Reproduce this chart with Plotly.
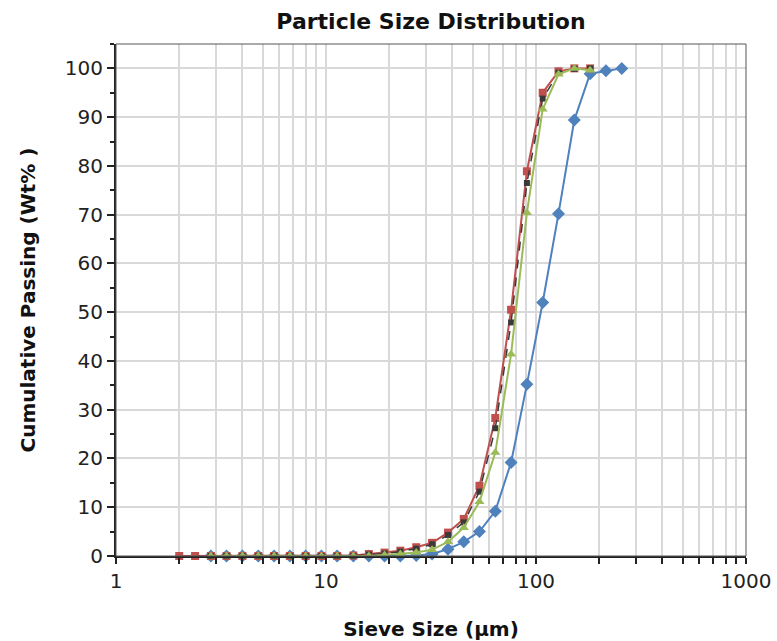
import plotly.graph_objects as go

# Sieve sizes (µm)
sizes = [2.0, 2.38, 2.83, 3.36, 4.0, 4.76, 5.66, 6.73, 8.0, 9.51, 11.3, 13.5,
         16.0, 19.0, 22.6, 26.9, 32.0, 38.1, 45.3, 53.8, 64.0, 76.1, 90.5,
         107.6, 128.0, 152.2, 181.0, 215.3, 256.0]

# Cumulative passing (Wt%)
blue_x = sizes[2:]
blue_y = [0, 0, 0, 0, 0, 0, 0, 0, 0, 0, 0, 0, 0, 0.1, 0.4, 1.4, 2.9, 5.0,
          9.2, 19.2, 35.2, 52.0, 70.2, 89.4, 98.9, 99.5, 100]

red_x = sizes[:27]
red_y = [0, 0, 0, 0, 0, 0, 0, 0, 0, 0, 0, 0.1, 0.4, 0.7, 1.1, 1.8, 2.7, 4.8,
         7.6, 14.4, 28.3, 50.5, 78.9, 95.0, 99.4, 100, 100]

dark_x = sizes[2:27]
dark_y = [0, 0, 0, 0, 0, 0, 0, 0, 0, 0, 0.3, 0.5, 0.9, 1.5, 2.4, 4.3, 6.9,
          13.2, 26.2, 47.9, 76.5, 93.8, 99.1, 99.9, 100]

green_x = sizes[2:27]
green_y = [0, 0, 0, 0, 0, 0, 0, 0, 0, 0, 0, 0.2, 0.4, 0.7, 1.3, 2.9, 5.8,
           11.1, 21.2, 41.4, 70.4, 91.6, 98.8, 100, 99.6]

x_tickvals = [m * 10 ** e for e in range(3) for m in range(1, 10)] + [1000]
x_ticktext = [str(m * 10 ** e) if m == 1 else "" for e in range(3)
              for m in range(1, 10)] + ["1000"]

FONT = "DejaVu Sans"

fig = go.Figure()
fig.add_trace(go.Scatter(x=blue_x, y=blue_y, mode="lines+markers",
                         line=dict(color="#4F81BD", width=2),
                         marker=dict(symbol="diamond", size=10, color="#4F81BD"),
                         cliponaxis=False))
fig.add_trace(go.Scatter(x=red_x, y=red_y, mode="lines+markers",
                         line=dict(color="#C0504D", width=2),
                         marker=dict(symbol="square", size=8, color="#C0504D"),
                         cliponaxis=False))
fig.add_trace(go.Scatter(x=dark_x, y=dark_y, mode="lines+markers",
                         line=dict(color="#3A3A3A", width=1.5, dash="dash"),
                         marker=dict(symbol="square", size=6, color="#3A3A3A"),
                         cliponaxis=False))
fig.add_trace(go.Scatter(x=green_x, y=green_y, mode="lines+markers",
                         line=dict(color="#9BBB59", width=2),
                         marker=dict(symbol="triangle-up", size=9, color="#9BBB59"),
                         cliponaxis=False))

fig.update_layout(
    width=777, height=641,
    margin=dict(l=116, r=31, t=44, b=85, autoexpand=False),
    paper_bgcolor="white", plot_bgcolor="white",
    showlegend=False,
    font=dict(family=FONT, color="#222222"),
    title=dict(text="<b>Particle Size Distribution</b>", x=0.5, xref="paper",
               xanchor="center", y=1 - 21 / 641, yref="container", yanchor="middle",
               font=dict(family=FONT, size=22, color="#111111")),
)
fig.update_xaxes(
    type="log", range=[0, 3], automargin=False,
    tickmode="array", tickvals=x_tickvals, ticktext=x_ticktext,
    ticks="outside", ticklen=6, tickwidth=2, tickcolor="#222222",
    showgrid=True, gridcolor="#D9D9D9", gridwidth=1.5,
    showline=True, linecolor="#222222", linewidth=2,
    zeroline=False,
    tickfont=dict(family=FONT, size=20, color="#222222"),
    title=dict(text="<b>Sieve Size (µm)</b>", standoff=31,
               font=dict(family=FONT, size=20, color="#111111")),
)
fig.update_yaxes(
    range=[0, 105], dtick=10, tick0=0, automargin=False,
    ticks="outside", ticklen=7, tickwidth=2, tickcolor="#222222",
    minor=dict(dtick=5, ticks="outside", ticklen=4, tickwidth=1.5,
               tickcolor="#222222", showgrid=False),
    showgrid=True, gridcolor="#D9D9D9", gridwidth=1.5,
    showline=True, linecolor="#222222", linewidth=2,
    zeroline=False,
    tickfont=dict(family=FONT, size=20, color="#222222"),
    title=dict(text="<b>Cumulative Passing (Wt% )</b>", standoff=24,
               font=dict(family=FONT, size=20, color="#111111")),
)
# top/right frame
fig.add_shape(type="rect", xref="paper", yref="paper", x0=0, x1=1, y0=0, y1=1,
              line=dict(color="#555555", width=1), layer="above")

fig.write_html("out.html")
